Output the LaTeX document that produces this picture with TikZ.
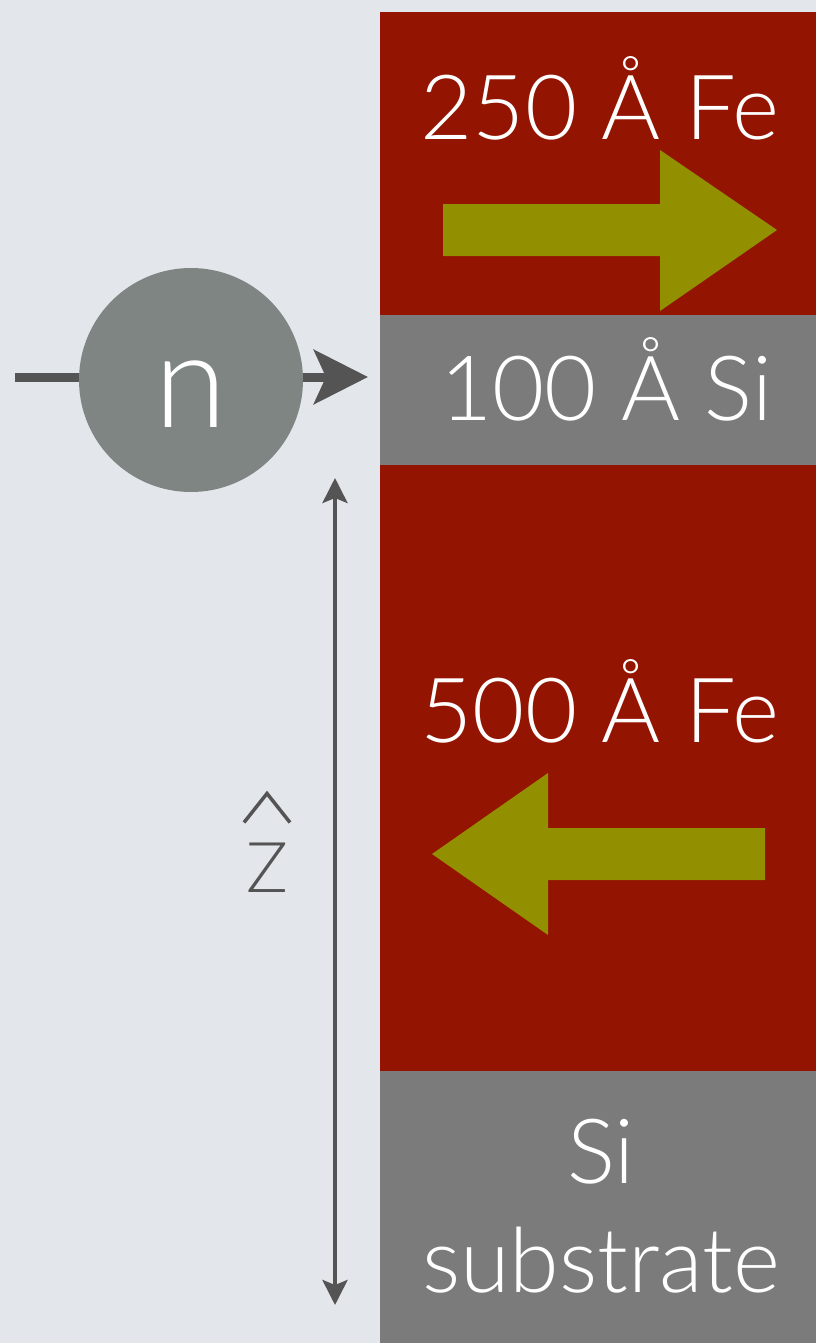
\documentclass[tikz,border=0pt]{standalone}
\usepackage{fontspec}
\setmainfont{Lato}[UprightFont={* Light}]
\usetikzlibrary{arrows.meta,positioning}
\definecolor{Rust}{HTML}{931400}
\definecolor{Slate}{HTML}{7B7B7B}
\definecolor{Olive}{HTML}{928F00}
\definecolor{Pebble}{HTML}{7F8583}
\definecolor{Ink}{HTML}{545454}
\definecolor{Paper}{HTML}{E3E6EA}

\begin{document}
\begin{tikzpicture}[
  x=1pt,y=-1pt,
  every node/.style={inner sep=0pt,outer sep=0pt,text=white,font=\fontsize{90}{109}\selectfont},
  layer/.style={minimum width=436pt,draw=none},
  tag/.style={anchor=base},
  moment/.style={fill=Olive},
  beam/.style={Ink,line width=9pt,-{Stealth[length=54pt,width=54pt,inset=12pt]}},
  zaxis/.style={Ink,line width=4pt,{Stealth[length=25pt,width=25pt,inset=5pt]}-{Stealth[length=25pt,width=25pt,inset=5pt]}}
]
\fill[Paper] (0,0) rectangle (816,1343);
\useasboundingbox (0,0) rectangle (816,1343);
% film stack
\node[layer,fill=Rust,minimum height=303pt,anchor=north west] (fetop) at (380,12) {};
\node[layer,fill=Slate,minimum height=150pt,below=0pt of fetop] (sispacer) {};
\node[layer,fill=Rust,minimum height=606pt,below=0pt of sispacer] (febot) {};
\node[layer,fill=Slate,minimum height=272pt,below=0pt of febot] (substrate) {};
\node[tag] (fetoplab) at (600,140) {250 Å Fe};
\node[tag] (sispacerlab) at (606,420) {100 Å Si};
\node[tag] (febotlab) at (600,742) {500 Å Fe};
\node[tag,align=center] (substratelab) at (601,1292) {Si\\substrate};
% magnetisation
\fill[moment] (443,204) -- (660,204) -- (660,150) -- (777,230) -- (660,311) -- (660,256) -- (443,256) -- cycle;
\fill[moment] (765,828) -- (548,828) -- (548,773) -- (432,854) -- (548,935) -- (548,880) -- (765,880) -- cycle;
% incoming neutron
\coordinate (src) at (15,377);
\draw[beam] (src) -- ([xshift=-12pt]src -| sispacer.west);
\node[circle,fill=Pebble,minimum size=224pt,text height=94pt,text depth=0pt,font=\fontsize{132}{132}\selectfont] (neutron) at (191,380) {n};
% depth axis
\coordinate (ztop) at (335,478);
\coordinate (zbot) at (335,1305);
\draw[zaxis] (ztop) -- (zbot);
\node[tag,text=Ink,font=\fontsize{70}{70}\selectfont] (zlab) at (267,892) {Z};
\draw[Ink,line width=3.5pt] ([xshift=-23pt,yshift=20pt]zlab.north) -- ([yshift=49pt]zlab.north) -- ([xshift=23pt,yshift=20pt]zlab.north);
\end{tikzpicture}
\end{document}
